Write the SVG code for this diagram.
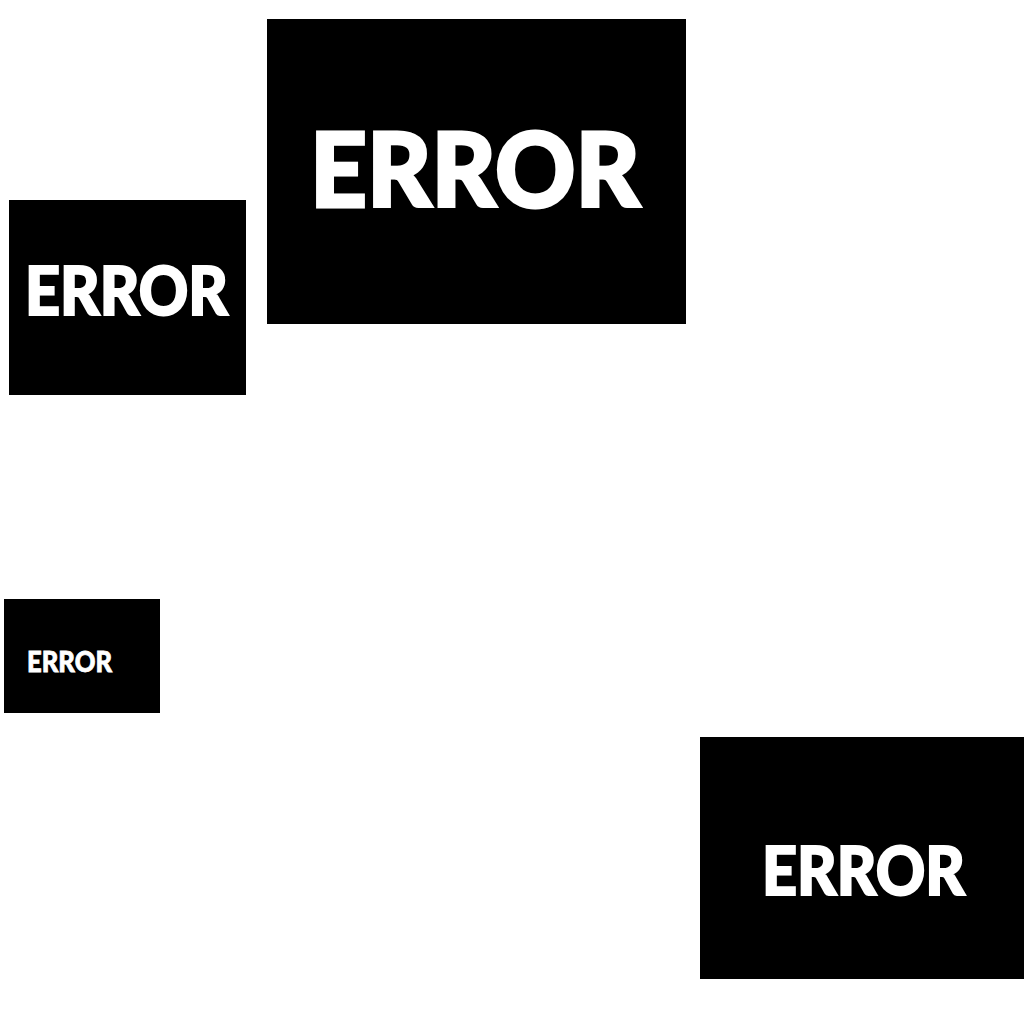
<svg xmlns="http://www.w3.org/2000/svg" width="1024" height="1024" viewBox="0 0 1024 1024">
<style>
.box{fill:#000}
.lbl{fill:#fff;stroke:#fff;stroke-linejoin:miter;font-family:Lato,"Liberation Sans",sans-serif;font-weight:900}
</style>
<rect width="1024" height="1024" fill="#fff"/>
<g id="node1"><rect class="box" x="267" y="19" width="419" height="305"/><text class="lbl" x="310" y="207" font-size="102" stroke-width="3" textLength="330" lengthAdjust="spacingAndGlyphs">ERROR</text></g>
<g id="node2"><rect class="box" x="9" y="200" width="237" height="195"/><text class="lbl" x="25" y="315" font-size="66" stroke-width="2" textLength="203" lengthAdjust="spacingAndGlyphs">ERROR</text></g>
<g id="node3"><rect class="box" x="4" y="599" width="156" height="114"/><text class="lbl" x="27" y="672" font-size="29" stroke-width="0.8" textLength="85" lengthAdjust="spacingAndGlyphs">ERROR</text></g>
<g id="node4"><rect class="box" x="700" y="737" width="324" height="242"/><text class="lbl" x="762" y="895" font-size="66" stroke-width="2" textLength="203" lengthAdjust="spacingAndGlyphs">ERROR</text></g>
<g id="connectors"></g>
</svg>
